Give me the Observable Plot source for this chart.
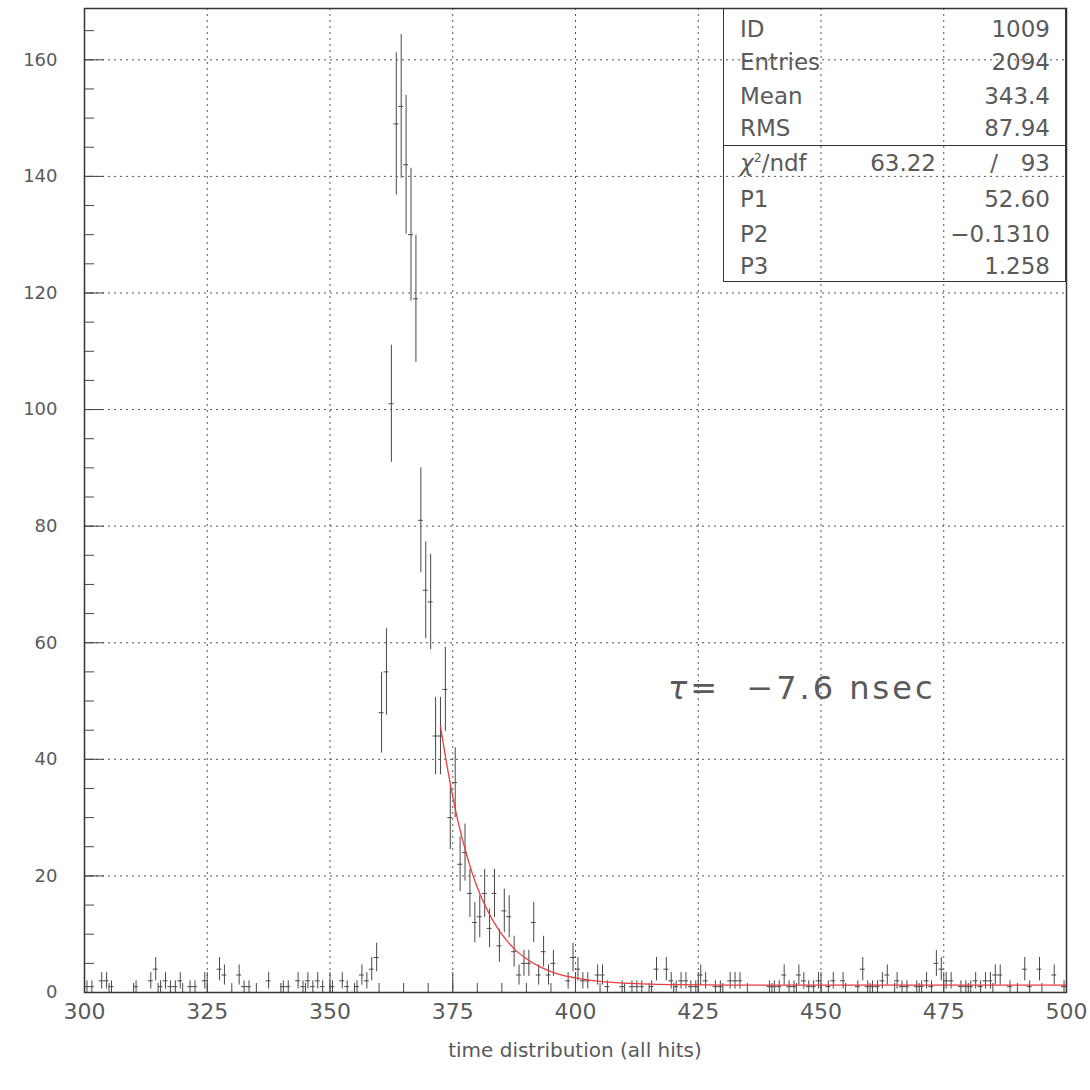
<!DOCTYPE html>
<html>
<head>
<meta charset="utf-8">
<script src="https://cdn.jsdelivr.net/npm/d3@7"></script>
<script src="https://cdn.jsdelivr.net/npm/@observablehq/plot@0.6"></script>
<style>
  body { margin: 0; background: #fff; }
  #wrap { position: relative; width: 1090px; height: 1090px; font-family: "DejaVu Sans", sans-serif; color: #5a5a5a; }
  #stats { position: absolute; left: 723px; top: 8px; width: 343px; height: 274px; box-sizing: border-box; border: 1.5px solid #333; }
  #stats .row { position: absolute; left: 16px; right: 15px; height: 34px; line-height: 34px; font-size: 23px; white-space: nowrap; }
  #stats .lab { position: absolute; left: 0; }
  #stats .val { position: absolute; right: 0; }
  #stats .mid { position: absolute; right: 114px; }
  #stats .slash { position: absolute; right: 52px; }
  #stats .div { position: absolute; left: 0; right: 0; top: 136px; border-top: 1.5px solid #333; }
  #tau { position: absolute; left: 668px; top: 668px; font-size: 32px; letter-spacing: 3px; line-height: 40px; color: #5a5a5a; white-space: pre; }
  #xlabel { position: absolute; left: 84px; width: 982px; top: 1037px; text-align: center; font-size: 20px; line-height: 26px; color: #5a5a5a; }
  sup { font-size: 0.55em; vertical-align: 0.7em; line-height: 0; }
</style>
</head>
<body>
<div id="wrap"></div>
<script>
// Histogram bins (lower edge, 1 ns wide) with non-zero content
const binEdge = [300,301,303,304,305,310,313,314,315,316,317,318,319,321,322,324,327,328,331,332,333,337,340,341,343,344,345,346,347,348,350,352,353,355,356,357,358,359,
  360,361,362,363,364,365,366,367,368,369,370,371,372,373,374,375,376,377,378,379,380,381,382,383,384,385,386,387,388,389,390,391,392,393,394,395,398,399,400,401,402,404,405,406,
  409,411,412,413,415,416,418,419,420,421,422,423,424,425,426,428,429,431,432,433,
  439,440,441,442,443,444,445,446,447,448,449,451,452,454,457,458,459,460,461,462,463,465,466,467,469,470,471,472,473,474,475,476,478,479,480,481,482,483,484,485,486,488,491,492,494,497,499];
const binCount = [1,1,2,2,1,1,2,4,1,2,1,1,2,1,1,2,4,3,3,1,1,2,1,1,2,1,2,1,2,1,1,2,1,1,3,2,4,6,
  48,55,101,149,152,142,130,119,81,69,67,44,44,52,30,36,22,24,17,12,13,17,11,17,8,14,13,7,3,5,5,12,3,7,3,5,2,6,4,2,2,3,3,1,
  1,1,1,1,1,4,4,2,1,2,2,1,1,3,2,1,1,2,2,2,
  1,1,1,3,1,1,3,2,1,1,2,1,2,2,1,4,1,1,1,2,3,2,1,1,1,1,2,1,5,4,2,2,1,1,1,2,1,2,2,3,3,1,4,1,4,3,1];

// Fit curve
const fitX = [372.5,374,376,378,380,382,384,386,388,390,393,396,400,405,410,415,420,430,440,460,480,500];
const fitY = [45.7,38.1,29.6,23.1,18.0,14.2,11.2,8.9,7.1,5.8,4.3,3.3,2.5,1.9,1.6,1.43,1.35,1.28,1.265,1.26,1.26,1.26];

// Axis ticks
const xLabelTicks = [300,325,350,375,400,425,450,475,500];
const yLabelTicks = [0,20,40,60,80,100,120,140,160];
const xMinorTicks = d3.range(300, 501, 5);
const yMinorTicks = d3.range(0, 169, 5);

// Statistics box
const statLabels = ["ID","Entries","Mean","RMS"];
const statValues = ["1009","2094","343.4","87.94"];
const chi2 = "63.22", ndf = "93";
const parLabels = ["P1","P2","P3"];
const parValues = ["52.60","\u22120.1310","1.258"];

const hist = binEdge.map((b, i) => ({bin: b, n: binCount[i]}));
const fit = fitX.map((x, i) => ({x, y: fitY[i]}));

const ink = "#484848";
const chart = Plot.plot({
  width: 1090,
  height: 1090,
  marginLeft: 84,
  marginRight: 24,
  marginTop: 8,
  marginBottom: 98,
  x: {domain: [300, 500]},
  y: {domain: [0, 168.8]},
  style: {fontFamily: "DejaVu Sans, sans-serif", color: "#5a5a5a", background: "white"},
  marks: [
    Plot.gridX({ticks: xLabelTicks.slice(1, -1), stroke: "#555", strokeOpacity: 1, strokeDasharray: "2,4"}),
    Plot.gridY({ticks: yLabelTicks.slice(1), stroke: "#555", strokeOpacity: 1, strokeDasharray: "2,4"}),
    Plot.axisX({ticks: xMinorTicks, tickSize: -9, tickFormat: () => "", label: null, stroke: ink}),
    Plot.axisX({ticks: xLabelTicks, tickSize: -20, tickFormat: () => "", label: null, stroke: ink}),
    Plot.axisX({ticks: xLabelTicks, tickSize: 0, tickPadding: 11, label: null, fontSize: 22, fill: "#5a5a5a"}),
    Plot.axisY({ticks: yMinorTicks, tickSize: -10, tickFormat: () => "", label: null, stroke: ink}),
    Plot.axisY({ticks: yLabelTicks, tickSize: 0, tickPadding: 27, label: null, fontSize: 18, fill: "#5a5a5a"}),
    Plot.axisY({ticks: yLabelTicks, tickSize: -20, tickFormat: () => "", label: null, stroke: ink}),
    Plot.ruleX(hist, {x: d => d.bin + 0.5, y1: d => d.n - Math.sqrt(d.n), y2: d => d.n + Math.sqrt(d.n), stroke: ink, strokeWidth: 1}),
    Plot.ruleY(hist, {y: "n", x1: "bin", x2: d => d.bin + 1, stroke: ink, strokeWidth: 1}),
    Plot.line(fit, {x: "x", y: "y", stroke: "#ee3b3b", strokeWidth: 1.3, curve: "monotone-x"}),
    Plot.frame({stroke: "#333", strokeWidth: 1.5})
  ]
});

const wrap = document.getElementById("wrap");
wrap.appendChild(chart);

// stats box
const box = document.createElement("div");
box.id = "stats";
const rowTops = [3, 36, 70, 102, 137, 173, 208, 240];
let html = "";
statLabels.forEach((l, i) => {
  html += `<div class="row" style="top:${rowTops[i]}px"><span class="lab">${l}</span><span class="val">${statValues[i]}</span></div>`;
});
html += `<div class="div"></div>`;
html += `<div class="row" style="top:${rowTops[4]}px"><span class="lab"><i>\u03c7</i><sup>2</sup>/ndf</span><span class="mid">${chi2}</span><span class="slash">/</span><span class="val">${ndf}</span></div>`;
parLabels.forEach((l, i) => {
  html += `<div class="row" style="top:${rowTops[5 + i]}px"><span class="lab">${l}</span><span class="val">${parValues[i]}</span></div>`;
});
box.innerHTML = html;
wrap.appendChild(box);

const tau = document.createElement("div");
tau.id = "tau";
tau.innerHTML = "<i>\u03c4</i>=  \u22127.6 nsec";
wrap.appendChild(tau);

const xl = document.createElement("div");
xl.id = "xlabel";
xl.textContent = "time distribution (all hits)";
wrap.appendChild(xl);
</script>
</body>
</html>
